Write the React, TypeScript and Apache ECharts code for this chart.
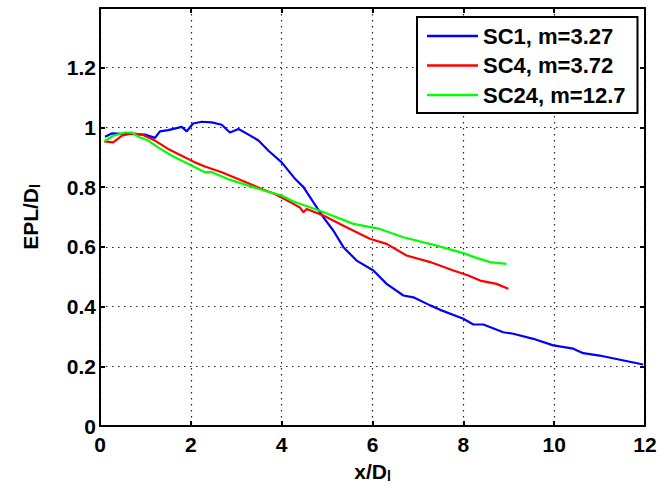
import React, { useEffect, useRef } from "react";
import * as echarts from "echarts";

const xTicks = { min: 0, max: 12, interval: 2 };
const yTicks = { min: 0, max: 1.4, interval: 0.2 };

const sc1X = [0.11, 0.26, 0.62, 0.99, 1.21, 1.32, 1.5, 1.8, 1.91, 2.05, 2.24, 2.46, 2.68, 2.86, 3.05, 3.27, 3.49, 3.71, 4.0, 4.3, 4.48, 4.7, 4.92, 5.14, 5.36, 5.65, 6.02, 6.31, 6.68, 6.9, 7.27, 7.49, 8.0, 8.22, 8.44, 8.88, 9.1, 9.54, 9.98, 10.42, 10.64, 11.0, 11.45, 11.96];
const sc1Y = [0.969, 0.98, 0.978, 0.976, 0.965, 0.987, 0.991, 1.002, 0.987, 1.013, 1.019, 1.017, 1.009, 0.983, 0.995, 0.976, 0.956, 0.922, 0.883, 0.827, 0.8, 0.749, 0.699, 0.654, 0.599, 0.554, 0.521, 0.476, 0.437, 0.431, 0.404, 0.389, 0.359, 0.34, 0.34, 0.314, 0.309, 0.292, 0.27, 0.259, 0.244, 0.236, 0.222, 0.206];

const sc4X = [0.09, 0.29, 0.48, 0.7, 0.92, 1.21, 1.5, 1.8, 2.09, 2.31, 2.68, 3.12, 3.56, 3.85, 4.26, 4.4, 4.48, 4.55, 4.92, 5.36, 5.94, 6.31, 6.75, 7.27, 7.78, 8.11, 8.37, 8.73, 8.99];
const sc4Y = [0.953, 0.95, 0.972, 0.98, 0.976, 0.956, 0.928, 0.905, 0.883, 0.869, 0.85, 0.822, 0.794, 0.777, 0.744, 0.732, 0.716, 0.727, 0.705, 0.671, 0.627, 0.61, 0.571, 0.549, 0.521, 0.504, 0.487, 0.476, 0.46];

const sc24X = [0.09, 0.29, 0.55, 0.7, 0.84, 1.06, 1.28, 1.58, 1.94, 2.31, 2.46, 2.82, 3.27, 3.63, 4.0, 4.26, 4.84, 5.58, 6.16, 6.68, 7.41, 8.0, 8.29, 8.59, 8.95];
const sc24Y = [0.953, 0.972, 0.983, 0.983, 0.969, 0.956, 0.933, 0.905, 0.878, 0.85, 0.85, 0.827, 0.805, 0.788, 0.772, 0.752, 0.721, 0.677, 0.66, 0.632, 0.604, 0.579, 0.563, 0.549, 0.543];

const seriesNames = ["SC1, m=3.27", "SC4, m=3.72", "SC24, m=12.7"];
const seriesColors = ["#0000ff", "#ff0000", "#00ff00"];

const FONT = "'Liberation Sans', Arial, sans-serif";

function zip(xs: number[], ys: number[]) {
  return xs.map((x, i) => [x, ys[i]]);
}

export default function App() {
  const ref = useRef<HTMLDivElement>(null);
  useEffect(() => {
    if (!ref.current) return;
    const chart = echarts.init(ref.current, undefined, { renderer: "svg" });
    const labelStyle = { color: "#000", fontWeight: "bold" as const, fontSize: 21, fontFamily: FONT };
    const nameRich = {
      sub: { fontSize: 14, fontWeight: "bold" as const, fontFamily: FONT, color: "#000", padding: [10, 0, 0, 0] },
    };
    const gridLine = { show: true, lineStyle: { color: "#222", type: [1.5, 4.5] as any, width: 1.2 } };
    const datasets = [zip(sc1X, sc1Y), zip(sc4X, sc4Y), zip(sc24X, sc24Y)];
    chart.setOption({
      animation: false,
      backgroundColor: "#fff",
      grid: { left: 100, right: 27, top: 8, bottom: 63, containLabel: false },
      legend: {
        orient: "vertical",
        left: 417,
        top: 17,
        data: seriesNames,
        icon: "rect",
        itemWidth: 51,
        itemHeight: 2.5,
        itemGap: 7.5,
        backgroundColor: "#fff",
        borderColor: "#000",
        borderWidth: 2,
        borderRadius: 0,
        padding: [8, 12, 7, 10],
        textStyle: { ...labelStyle, fontSize: 22, padding: [0, 0, 0, 0], lineHeight: 22 },
      },
      xAxis: [
        {
          type: "value",
          min: xTicks.min,
          max: xTicks.max,
          interval: xTicks.interval,
          name: "x/D{sub|l}",
          nameLocation: "middle",
          nameGap: 33,
          nameTextStyle: { ...labelStyle, rich: nameRich },
          axisLine: { show: true, onZero: false, lineStyle: { color: "#000", width: 2 } },
          axisTick: { show: true, inside: true, length: 5, lineStyle: { color: "#000", width: 2 } },
          axisLabel: { ...labelStyle, margin: 8 },
          splitLine: gridLine,
        },
        {
          type: "value",
          position: "top",
          min: xTicks.min,
          max: xTicks.max,
          interval: xTicks.interval,
          axisLine: { show: true, onZero: false, lineStyle: { color: "#000", width: 2 } },
          axisTick: { show: true, inside: true, length: 5, lineStyle: { color: "#000", width: 2 } },
          axisLabel: { show: false },
          splitLine: { show: false },
        },
      ],
      yAxis: [
        {
          type: "value",
          min: yTicks.min,
          max: yTicks.max,
          interval: yTicks.interval,
          name: "EPL/D{sub|l}",
          nameLocation: "middle",
          nameGap: 58,
          nameTextStyle: { ...labelStyle, rich: nameRich },
          axisLine: { show: true, onZero: false, lineStyle: { color: "#000", width: 2 } },
          axisTick: { show: true, inside: true, length: 5, lineStyle: { color: "#000", width: 2 } },
          axisLabel: {
            ...labelStyle,
            margin: 4,
            formatter: (v: number) => (v > 1.3 ? "" : String(Math.round(v * 10) / 10)),
          },
          splitLine: gridLine,
        },
        {
          type: "value",
          position: "right",
          min: yTicks.min,
          max: yTicks.max,
          interval: yTicks.interval,
          axisLine: { show: true, onZero: false, lineStyle: { color: "#000", width: 2 } },
          axisTick: { show: true, inside: true, length: 5, lineStyle: { color: "#000", width: 2 } },
          axisLabel: { show: false },
          splitLine: { show: false },
        },
      ],
      series: datasets.map((d, i) => ({
        name: seriesNames[i],
        type: "line",
        data: d,
        symbol: "none",
        color: seriesColors[i],
        lineStyle: { color: seriesColors[i], width: 2.2 },
        xAxisIndex: 0,
        yAxisIndex: 0,
      })),
    });
    return () => chart.dispose();
  }, []);
  return <div ref={ref} style={{ position: "fixed", left: 0, top: 0, width: 672, height: 489 }} />;
}
